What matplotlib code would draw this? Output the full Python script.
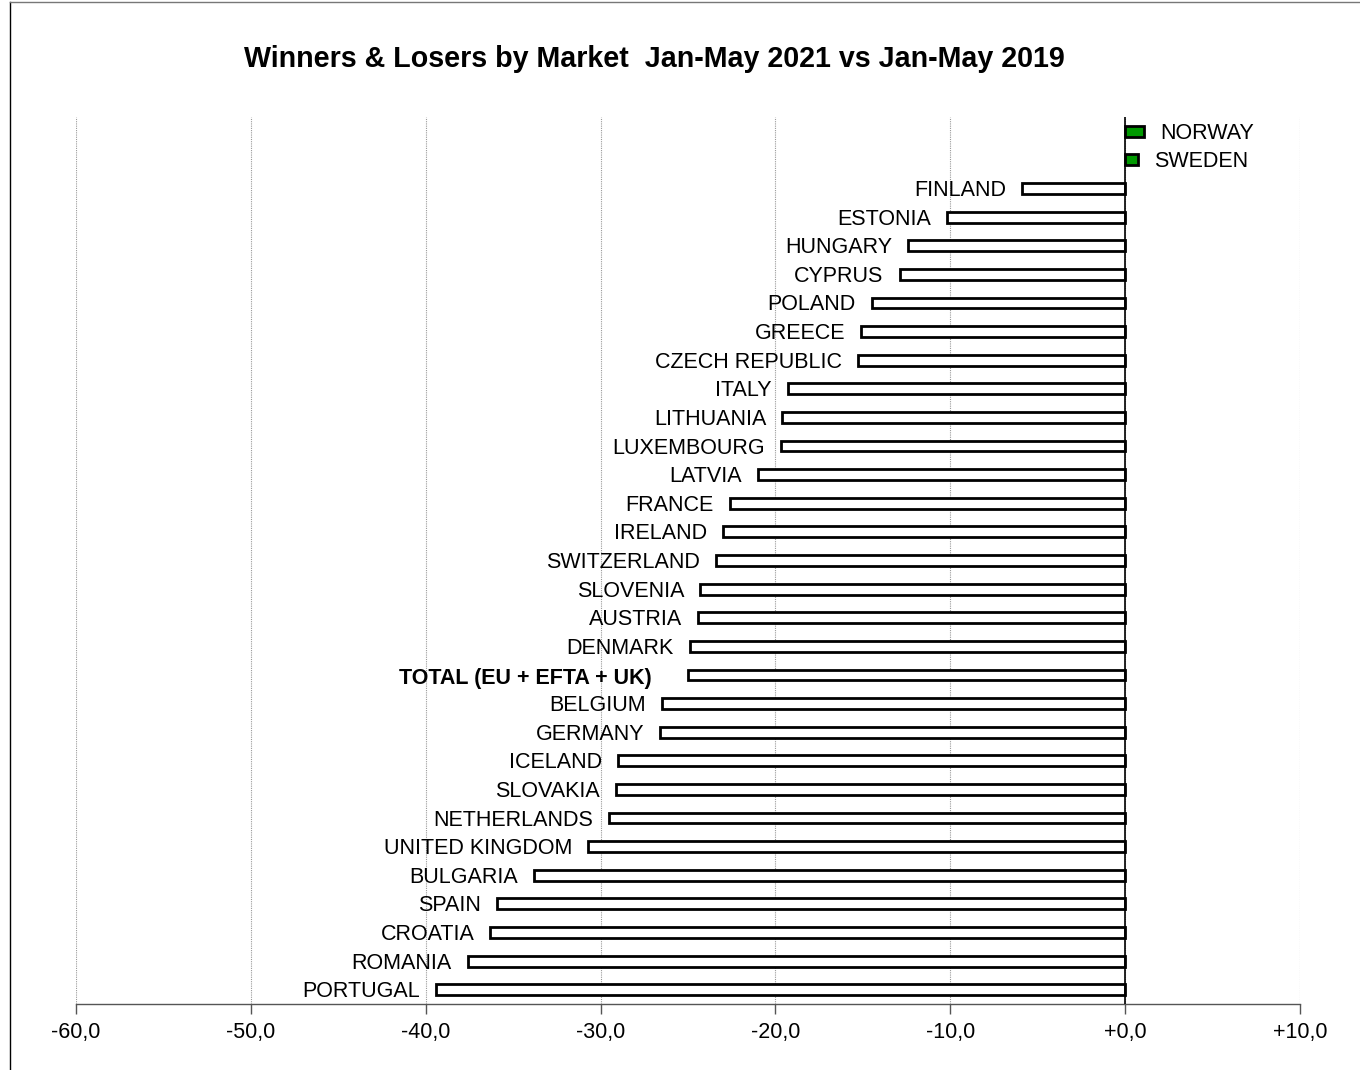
import matplotlib
matplotlib.use("Agg")
import matplotlib.pyplot as plt
from matplotlib.lines import Line2D

countries = ["NORWAY", "SWEDEN", "FINLAND", "ESTONIA", "HUNGARY", "CYPRUS", "POLAND",
             "GREECE", "CZECH REPUBLIC", "ITALY", "LITHUANIA", "LUXEMBOURG", "LATVIA",
             "FRANCE", "IRELAND", "SWITZERLAND", "SLOVENIA", "AUSTRIA", "DENMARK",
             "TOTAL (EU + EFTA + UK)", "BELGIUM", "GERMANY", "ICELAND", "SLOVAKIA",
             "NETHERLANDS", "UNITED KINGDOM", "BULGARIA", "SPAIN", "CROATIA", "ROMANIA",
             "PORTUGAL"]
values = [1.1, 0.75, -5.9, -10.2, -12.4, -12.9, -14.5,
          -15.1, -15.3, -19.3, -19.6, -19.7, -21.0,
          -22.6, -23.0, -23.4, -24.3, -24.4, -24.9,
          -25.0, -26.5, -26.6, -29.0, -29.1,
          -29.5, -30.7, -33.8, -35.9, -36.3, -37.6,
          -39.4]
total_label = "TOTAL (EU + EFTA + UK)"
xticks = [-60, -50, -40, -30, -20, -10, 0, 10]
xtick_labels = ["-60,0", "-50,0", "-40,0", "-30,0", "-20,0", "-10,0", "+0,0", "+10,0"]
title = "Winners & Losers by Market  Jan-May 2021 vs Jan-May 2019"

plt.rcParams['font.family'] = ['Liberation Sans', 'DejaVu Sans']

fig = plt.figure(figsize=(13.6, 10.7), dpi=100)
ax = fig.add_axes([76/1360, 66/1070, 1224/1360, 887/1070])

ypos = list(range(len(countries)))
colors = ["#009900" if v > 0 else "white" for v in values]
ax.barh(ypos, values, height=0.38, color=colors, edgecolor="black", linewidth=2.0, zorder=3)

for y, name, v in zip(ypos, countries, values):
    if v >= 0:
        ax.annotate(name, (v, y), xytext=(16, -2), textcoords="offset pixels",
                    ha="left", va="center", fontsize=15.5)
    else:
        bold = name == total_label
        off = -36 if bold else -16
        ax.annotate(name, (v, y), xytext=(off, -4 if bold else -2), textcoords="offset pixels",
                    ha="right", va="center", fontsize=15.5,
                    fontweight="bold" if bold else "normal")

ax.set_xlim(-60, 10)
ax.set_ylim(len(countries) - 0.5, -0.5)
ax.set_xticks(xticks)
ax.set_xticklabels(xtick_labels, fontsize=15.5)
ax.set_yticks([])
ax.tick_params(axis="x", direction="out", length=7, width=1, color="#555555", pad=6)
for s in ["top", "right", "left"]:
    ax.spines[s].set_visible(False)
ax.spines["bottom"].set_color("#555555")
ax.spines["bottom"].set_linewidth(1)
ax.xaxis.grid(True, linestyle=(0, (1, 1)), color="#999999", linewidth=0.8, zorder=0)
ax.axvline(0, color="black", linewidth=1.2, zorder=4)
ax.set_axisbelow(True)

fig.text(654/1360, 1 - 59/1070, title, ha="center", va="center",
         fontsize=20.6, fontweight="bold")

# outer frame (left and top)
fig.add_artist(Line2D([10/1360, 10/1360], [0, 1 - 2/1070], transform=fig.transFigure,
                      color="black", linewidth=1))
fig.add_artist(Line2D([10/1360, 1], [1 - 2/1070, 1 - 2/1070], transform=fig.transFigure,
                      color="#777777", linewidth=1))

fig.savefig("out.png", dpi=100)
